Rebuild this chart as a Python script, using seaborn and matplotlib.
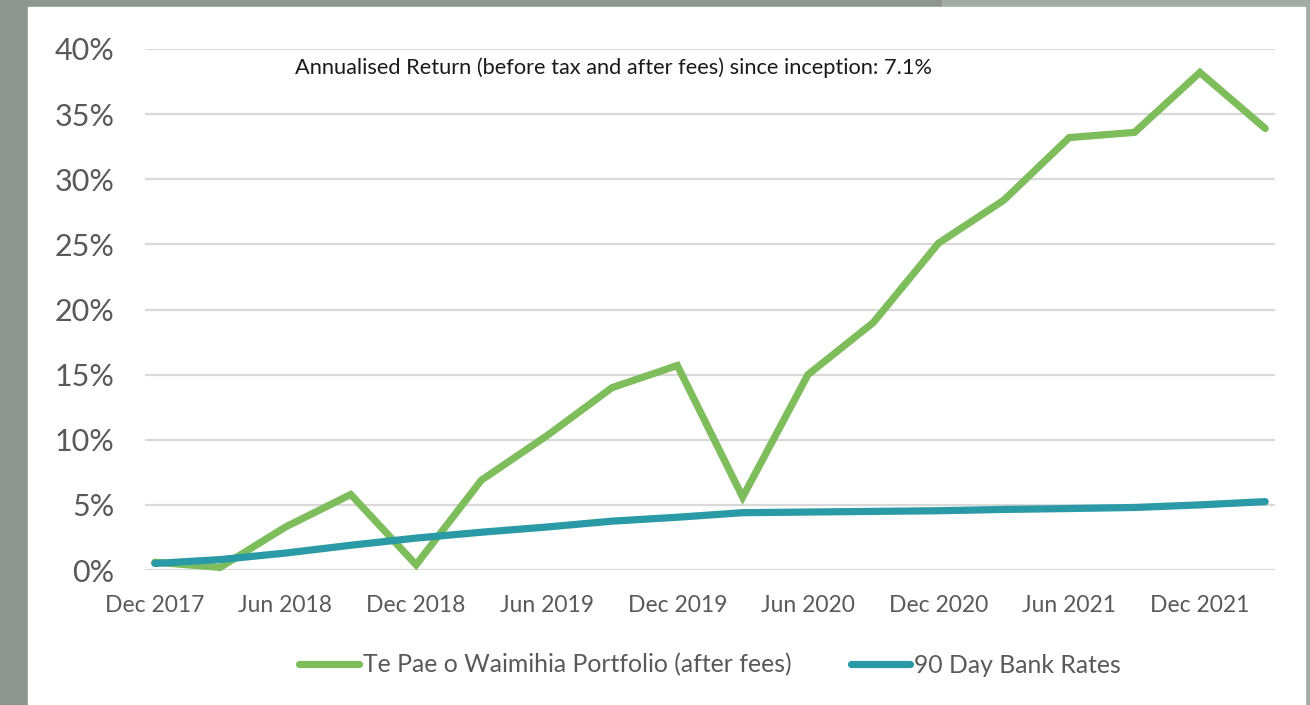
import matplotlib
matplotlib.use("Agg")
import matplotlib.pyplot as plt
import matplotlib.patches as mpatches
import numpy as np
import pandas as pd
import seaborn as sns

quarters = ["Dec 2017", "Mar 2018", "Jun 2018", "Sep 2018", "Dec 2018", "Mar 2019",
            "Jun 2019", "Sep 2019", "Dec 2019", "Mar 2020", "Jun 2020", "Sep 2020",
            "Dec 2020", "Mar 2021", "Jun 2021", "Sep 2021", "Dec 2021", "Mar 2022"]
portfolio = [0.6, 0.2, 3.3, 5.8, 0.4, 6.9, 10.3, 14.0, 15.7, 5.6, 15.0, 19.0,
             25.1, 28.4, 33.2, 33.6, 38.2, 33.9]
bank_rates = [0.5, 0.8, 1.3, 1.9, 2.45, 2.9, 3.3, 3.75, 4.05, 4.4, 4.45, 4.5,
              4.55, 4.65, 4.72, 4.8, 5.0, 5.25]
tick_labels = ["Dec 2017", "Jun 2018", "Dec 2018", "Jun 2019", "Dec 2019",
               "Jun 2020", "Dec 2020", "Jun 2021", "Dec 2021"]
y_ticks = [0, 5, 10, 15, 20, 25, 30, 35, 40]
series_names = ["Te Pae o Waimihia Portfolio (after fees)", "90 Day Bank Rates"]
annotation = "Annualised Return (before tax and after fees) since inception: 7.1%"

sns.set_theme(style="white")
plt.rcParams["font.family"] = ["Lato", "DejaVu Sans"]

W, H = 1310, 705
fig = plt.figure(figsize=(W / 100, H / 100), dpi=100)
fig.patch.set_facecolor("#8d9790")
# lighter strips (top-right and right edge)
fig.add_artist(mpatches.Rectangle((942 / W, 1 - 7 / H), 1 - 942 / W, 7 / H,
                                  transform=fig.transFigure, color="#a4aca6", zorder=0))
fig.add_artist(mpatches.Rectangle((1305 / W, 0), 5 / W, 1,
                                  transform=fig.transFigure, color="#a4aca6", zorder=0))
# white panel
fig.add_artist(mpatches.Rectangle((28 / W, 0), (1305 - 28) / W, 1 - 7 / H,
                                  transform=fig.transFigure, color="white", zorder=0))

ax = fig.add_axes([145 / W, 1 - 570 / H, (1275 - 145) / W, (570 - 49) / H])
ax.set_facecolor("none")

df = pd.DataFrame({
    "x": list(range(len(quarters))) * 2,
    "value": portfolio + bank_rates,
    "series": [series_names[0]] * len(quarters) + [series_names[1]] * len(quarters),
})
palette = {series_names[0]: "#7dbd5b", series_names[1]: "#2b9aa7"}
sns.lineplot(data=df, x="x", y="value", hue="series", palette=palette,
             linewidth=5.2, ax=ax, legend=True, solid_capstyle="round",
             solid_joinstyle="miter")
for line in ax.get_lines():
    line.set_clip_on(False)

ax.set_xlim(-0.15, len(quarters) - 1 + 0.15)
ax.set_ylim(0, 40)
ax.set_yticks(y_ticks)
ax.set_yticklabels([f"{v}%" for v in y_ticks])
ax.set_xticks(range(0, len(quarters), 2))
ax.set_xticklabels(tick_labels)
ax.tick_params(axis="y", labelsize=22, colors="#595959", length=0, pad=22)
ax.tick_params(axis="x", labelsize=16.5, colors="#595959", length=0, pad=18)
ax.yaxis.grid(True, color="#d9d9d9", linewidth=1.6)
ax.set_axisbelow(True)
for s in ax.spines.values():
    s.set_visible(False)
ax.set_xlabel("")
ax.set_ylabel("")

ax.text(295 / W, 1 - 68 / H, annotation, transform=fig.transFigure,
        fontsize=15.7, color="#1a1a1a", ha="left", va="center")

handles, labels = ax.get_legend_handles_labels()
ax.legend_.remove()
for h in handles:
    h.set_linewidth(5.2)
fig.legend(handles, labels, loc="center", bbox_to_anchor=(710 / W, 1 - 665 / H),
           ncol=2, frameon=False, fontsize=17.8, labelcolor="#595959",
           handlelength=2.4, handletextpad=0.16, columnspacing=2.4)

fig.savefig("out.png", dpi=100)
